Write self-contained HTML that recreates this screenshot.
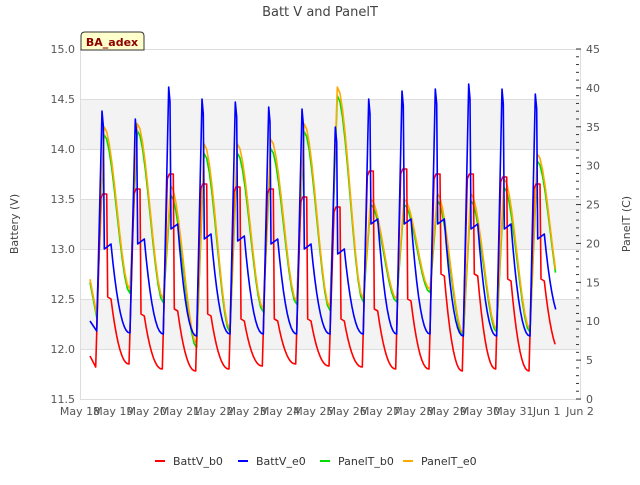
<!DOCTYPE html>
<html><head><meta charset="utf-8"><style>
body{margin:0;background:#fff;}
svg text{font-family:"DejaVu Sans","Liberation Sans",sans-serif;}
</style></head><body>
<svg id="chart" width="640" height="480" viewBox="0 0 640 480" xmlns="http://www.w3.org/2000/svg">
<rect x="0" y="0" width="640" height="480" fill="#fff"/>
<g id="bands"></g>
<g id="grid"></g>
<rect x="80.5" y="49.5" width="500" height="350" fill="none" stroke="#ddd"/>
<g id="ticks"></g>
<g id="series"></g>
<text x="320" y="16" text-anchor="middle" font-size="13" fill="#444">Batt V and PanelT</text>
<text transform="translate(18,224) rotate(-90)" text-anchor="middle" font-size="11" fill="#444">Battery (V)</text>
<text transform="translate(630,224) rotate(-90)" text-anchor="middle" font-size="11" fill="#444">PanelT (C)</text>
<g>
<path d="M81,50 L81,36 Q81,32 85,32 L140,32 Q144,32 144,36 L144,50 Z" fill="#ffffcc" stroke="#333"/>
<text x="112" y="46" text-anchor="middle" font-size="11" font-weight="bold" fill="#8b0000">BA_adex</text>
</g>
<g id="legend"></g>
</svg>
<script>
// ---- data (day index 0 = May 18) ----
const xTickLabels = ["May 18","May 19","May 20","May 21","May 22","May 23","May 24","May 25","May 26","May 27","May 28","May 29","May 30","May 31","Jun 1","Jun 2"];
const leftTicks = [11.5,12.0,12.5,13.0,13.5,14.0,14.5,15.0];
const rightTicks = [0,5,10,15,20,25,30,35,40,45];
// BattV_b0 (red)
const redStart = 11.93, redEnd = 11.95;
const redMin  = [11.82,11.85,11.80,11.78,11.80,11.83,11.85,11.83,11.82,11.80,11.80,11.78,11.80,11.78];
const redPeak = [13.55,13.60,13.75,13.65,13.62,13.60,13.52,13.42,13.78,13.80,13.75,13.75,13.72,13.65];
const redPost = [12.52,12.35,12.40,12.35,12.30,12.30,12.30,12.30,12.40,12.50,12.75,12.75,12.70,12.70];
// BattV_e0 (blue)
const blueStart = 12.28, blueEnd = 12.28;
const blueMin  = [12.18,12.16,12.15,12.13,12.15,12.15,12.15,12.15,12.15,12.15,12.15,12.13,12.13,12.13];
const bluePeak = [14.38,14.30,14.62,14.50,14.47,14.42,14.40,14.22,14.50,14.58,14.60,14.65,14.60,14.55];
const bluePost = [13.00,13.05,13.20,13.10,13.08,13.05,13.00,12.95,13.25,13.25,13.25,13.20,13.20,13.10];
// PanelT_e0 (orange, deg C)
const orangeStart = 15.4, orangeEnd = 12.6;
const orangeMin  = [10.9,14.1,12.9,7.1,9.0,11.6,12.6,11.8,12.9,12.9,14.1,8.4,9.0,9.0];
const orangePeak = [35.0,35.4,27.4,32.8,32.8,33.4,35.4,40.1,25.7,25.7,26.4,26.4,28.3,31.5];
// PanelT_b0 (green, deg C)
const greenStart = 15.0, greenEnd = 12.3;
const greenMin  = [10.5,13.6,12.4,6.6,8.6,11.2,12.2,11.4,12.5,12.5,13.7,8.0,8.6,8.6];
const greenPeak = [34.0,34.5,26.2,31.6,31.6,32.2,34.4,39.0,25.0,25.0,25.5,25.5,27.2,30.6];

// ---- axes ----
const X0=80, X1=580, Y0=399, Y1=49;
const xS = d => X0 + (X1-X0)*d/15;
const yL = v => Y0 - (v-11.5)*(Y0-Y1)/3.5;
const yR = t => Y0 - t*(Y0-Y1)/45;
const NS="http://www.w3.org/2000/svg";
function mk(tag, attrs, parent){const e=document.createElementNS(NS,tag);for(const k in attrs)e.setAttribute(k,attrs[k]);parent.appendChild(e);return e;}

const bands=document.getElementById('bands'), grid=document.getElementById('grid'), ticks=document.getElementById('ticks');
[12.0,13.0,14.0].forEach(v=>{
  const r=mk('rect',{x:X0,y:yL(v+0.5),width:X1-X0,height:yL(v)-yL(v+0.5),fill:'#f3f3f3'},bands);
  
  
});
leftTicks.forEach(v=>{
  const l=mk('line',{x1:X0,x2:X1,y1:yL(v)+0.5,y2:yL(v)+0.5,stroke:'#ddd'},grid);
  
  
  const t=mk('text',{x:75,y:yL(v)+4,'text-anchor':'end','font-size':11,fill:'#555'},ticks);
  
  
  t.textContent=v.toFixed(1);
});
rightTicks.forEach(v=>{
  const t=mk('text',{x:586,y:yR(v)+4,'text-anchor':'start','font-size':11,fill:'#555'},ticks);
  
  
  t.textContent=String(v);
});
for(let t=0;t<=45;t++){
  const l=mk('line',{x1:576,x2:(t%5===0?581:579),y1:yR(t),y2:yR(t),stroke:'#333','stroke-width':1},ticks);
  
  
}
xTickLabels.forEach((s,i)=>{
  const t=mk('text',{x:xS(i),y:415,'text-anchor':'middle','font-size':11,fill:'#555'},ticks);
  
  
  t.textContent=s;
});

// ---- series builders ----
function decay(pts,t0,v0,t1,v1,tEnd){
  for(let k=1;k<=10;k++){const s=k/10;const t=t0+(t1-t0)*s;if(t>tEnd)break;pts.push([t,v1+(v0-v1)*Math.pow(1-s,2.2)]);}
}
function batt(start,mins,peaks,posts,end,isBlue){
  const pts=[[0.3,start]];const n=mins.length;const tEnd=14.3;
  for(let d=0;d<n;d++){
    const tm=d+(isBlue?0.5:0.47);
    pts.push([tm,mins[d]]);
    if(isBlue){
      pts.push([d+0.66,peaks[d]]);pts.push([d+0.70,peaks[d]-0.15]);
      pts.push([d+0.73,posts[d]]);pts.push([d+0.93,posts[d]+0.05]);
      const nm=d+1<n?mins[d+1]:end;decay(pts,d+0.93,posts[d]+0.05,d+1.5,nm,tEnd);
    }else{
      pts.push([d+0.62,peaks[d]-0.05]);pts.push([d+0.68,peaks[d]]);pts.push([d+0.8,peaks[d]]);
      pts.push([d+0.83,posts[d]]);pts.push([d+0.93,posts[d]-0.02]);
      const nm=d+1<n?mins[d+1]:end;decay(pts,d+0.93,posts[d]-0.02,d+1.47,nm,tEnd);
    }
  }
  return pts;
}
function temp(start,mins,peaks,end){
  const pts=[[0.3,start]];const n=mins.length;const tEnd=14.3;
  for(let d=0;d<n;d++){
    pts.push([d+0.5,mins[d]]);
    pts.push([d+0.72,peaks[d]]);
    const nm=d+1<n?mins[d+1]:end;
    for(let k=1;k<=10;k++){const s=k/10;const t=d+0.72+0.78*s;if(t>tEnd)break;
      pts.push([t,nm+(peaks[d]-nm)*(1-s*s*(3-2*s))]);}
  }
  return pts;
}
const seriesG=document.getElementById('series');
function draw(pts,ys,color,name){
  const d=pts.map((p,i)=>(i?'L':'M')+xS(p[0]).toFixed(1)+','+ys(p[1]).toFixed(1)).join('');
  const p=mk('path',{d:d,fill:'none',stroke:color,'stroke-width':1.6,'stroke-linejoin':'round'},seriesG);
  
  
}
draw(temp(greenStart,greenMin,greenPeak,greenEnd),yR,'#00dd00','panelt-b0-line');
draw(temp(orangeStart,orangeMin,orangePeak,orangeEnd),yR,'#ffaa00','panelt-e0-line');
draw(batt(redStart,redMin,redPeak,redPost,redEnd,false),yL,'#ff0000','battv-b0-line');
draw(batt(blueStart,blueMin,bluePeak,bluePost,blueEnd,true),yL,'#0000ff','battv-e0-line');

// ---- legend ----
const legend=document.getElementById('legend');
const legItems=[["BattV_b0","#ff0000",155],["BattV_e0","#0000ff",238],["PanelT_b0","#00dd00",320],["PanelT_e0","#ffaa00",403]];
legItems.forEach(it=>{
  const g=mk('g',{},legend);
  
  
  mk('line',{x1:it[2],x2:it[2]+10,y1:461,y2:461,stroke:it[1],'stroke-width':2},g);
  const t=mk('text',{x:it[2]+18,y:465,'font-size':11,fill:'#333'},g);
  t.textContent=it[0];
});
</script>
</body></html>
